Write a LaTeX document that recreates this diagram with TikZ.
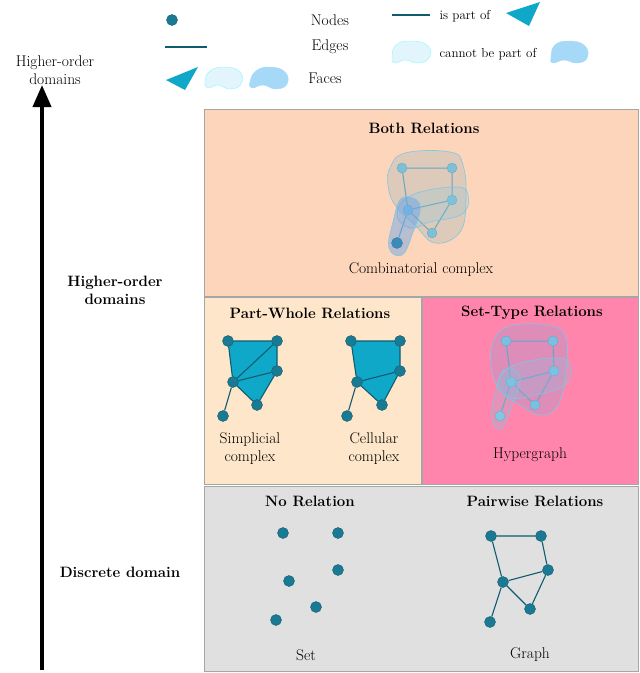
\documentclass[tikz,border=0pt]{standalone}
\usetikzlibrary{arrows.meta}
\definecolor{nodec}{HTML}{1A7A94}
\definecolor{edgec}{HTML}{0F5C70}
\definecolor{facec}{HTML}{0FA8C8}
\definecolor{peach}{HTML}{FDD5BA}
\definecolor{cream}{HTML}{FDE6C9}
\definecolor{pinkc}{HTML}{FF85AD}
\definecolor{grayc}{HTML}{E0E0E0}
\definecolor{lcloud}{HTML}{E3F5FC}
\definecolor{bcloud}{HTML}{A6D8F7}
\definecolor{hyp}{HTML}{7EC8E3}
\begin{document}
\begin{tikzpicture}[x=1pt,y=-1pt,
  box/.style={draw=gray!70,line width=0.8pt},
  nd/.style={circle,fill=nodec,draw=edgec,line width=0.4pt,inner sep=0pt,minimum size=11pt},
  hnd/.style={circle,fill=hyp,draw=hyp!80!black,line width=0.3pt,inner sep=0pt,minimum size=10pt},
  ed/.style={draw=edgec,line width=1.1pt},
  hed/.style={draw=hyp!70!edgec,line width=1pt},
  face/.style={fill=facec},
  blob/.style={fill=hyp,fill opacity=0.22,draw=hyp,line width=0.6pt},
  lab/.style={font=\fontsize{15.5}{18}\selectfont,align=center},
  blab/.style={font=\fontsize{15}{18}\selectfont\bfseries,align=center}]
\useasboundingbox (0,0) rectangle (640,673);
% boxes
\path[box,fill=peach] (204,109) rectangle (638,296);
\path[box,fill=cream] (204,297) rectangle (421,484);
\path[box,fill=pinkc] (422,297) rectangle (638,484);
\path[box,fill=grayc] (204,486) rectangle (638,671);
% main arrow
\coordinate (abot) at (42,670);
\coordinate (atop) at (42,85);
\draw[line width=4pt,-{Triangle[length=22pt,width=18pt]}] (abot) -- (atop);
\node[lab] (t1) at (55,70) {Higher-order\\domains};
\node[blab] (t2) at (115,290) {Higher-order\\domains};
\node[blab] (t3) at (120,572) {Discrete domain};
% legend
\node[nd] (ln) at (172,20) {};
\node[lab] (lnt) at (330,20) {Nodes};
\coordinate (le1) at (165,47); \coordinate (le2) at (207,47);
\draw[ed] (le1) -- (le2);
\node[lab] (let) at (330,47) {Edges};
\fill[face] (166,80) -- (198,67) -- (185,90) -- cycle;
\draw[fill=lcloud,draw=lcloud!60!cyan] plot[smooth cycle,tension=0.8] coordinates {(205,82)(210,71)(225,67)(240,72)(241,84)(230,89)(218,85)(208,88)};
\draw[fill=bcloud,draw=bcloud] plot[smooth cycle,tension=0.8] coordinates {(250,82)(256,71)(270,67)(285,72)(287,84)(276,89)(263,85)(252,88)};
\node[lab] (lft) at (325,78) {Faces};
\coordinate (lp1) at (392,15); \coordinate (lp2) at (430,15);
\draw[ed] (lp1) -- (lp2);
\node[font=\fontsize{13}{15}\selectfont] (lpt) at (465,16) {is part of};
\fill[face] (506,13) -- (540,2) -- (529,26) -- cycle;
\draw[fill=lcloud,draw=lcloud!60!cyan] plot[smooth cycle,tension=0.8] coordinates {(392,58)(396,45)(412,41)(428,46)(429,58)(418,63)(405,60)(395,63)};
\node[font=\fontsize{13}{15}\selectfont] (lct) at (488,54) {cannot be part of};
\draw[fill=bcloud,draw=bcloud] plot[smooth cycle,tension=0.8] coordinates {(551,58)(555,45)(570,41)(585,46)(587,58)(577,63)(564,60)(553,63)};
% titles
\node[blab] (h1) at (424,128) {Both Relations};
\node[lab] (h1b) at (421,270) {Combinatorial complex};
\node[blab] (h2) at (310,313) {Part-Whole Relations};
\node[blab] (h3) at (532,313) {Set-Type Relations};
\node[lab] (s1) at (250,449) {Simplicial\\complex};
\node[lab] (s2) at (374,449) {Cellular\\complex};
\node[lab] (s3) at (530,455) {Hypergraph};
\node[blab] (h4) at (310,501) {No Relation};
\node[blab] (h5) at (535,501) {Pairwise Relations};
\node[lab] (s4) at (306,655) {Set};
\node[lab] (s5) at (530,655) {Graph};
% simplicial complex
\fill[face] (228,341) -- (277,341) -- (277,371) -- (257,405) -- (233,382) -- cycle;
\node[nd] (a1) at (228,341) {}; \node[nd] (a2) at (277,341) {};
\node[nd] (a3) at (277,371) {}; \node[nd] (a4) at (233,382) {};
\node[nd] (a5) at (257,405) {}; \node[nd] (a6) at (223,416) {};
\draw[ed] (a1)--(a2) (a2)--(a3) (a3)--(a5) (a5)--(a4) (a4)--(a1) (a4)--(a2) (a4)--(a3) (a4)--(a6);
% cellular complex
\fill[face] (351,341) -- (400,341) -- (400,371) -- (382,405) -- (357,382) -- cycle;
\node[nd] (b1) at (351,341) {}; \node[nd] (b2) at (400,341) {};
\node[nd] (b3) at (400,371) {}; \node[nd] (b4) at (357,382) {};
\node[nd] (b5) at (382,405) {}; \node[nd] (b6) at (347,416) {};
\draw[ed] (b1)--(b2) (b2)--(b3) (b3)--(b5) (b5)--(b4) (b4)--(b1) (b4)--(b3) (b4)--(b6);
% hypergraph
\node[hnd] (c1) at (506,341) {}; \node[hnd] (c2) at (553,341) {};
\node[hnd] (c3) at (554,371) {}; \node[hnd] (c4) at (511,382) {};
\node[hnd] (c5) at (535,405) {}; \node[hnd] (c6) at (500,416) {};
\draw[hed] (c1)--(c2) (c2)--(c3) (c3)--(c5) (c5)--(c4) (c4)--(c1) (c4)--(c3) (c4)--(c6);
\draw[blob,fill=blue!15!hyp] plot[smooth cycle,tension=0.7] coordinates {(494,340)(510,326)(545,325)(565,335)(566,370)(558,405)(540,415)(520,405)(500,390)(491,365)};
\draw[blob] plot[smooth cycle,tension=0.7] coordinates {(498,385)(512,366)(555,358)(570,365)(565,385)(535,395)(512,398)};
\draw[blob] plot[smooth cycle,tension=0.7] coordinates {(504,370)(520,377)(512,405)(502,428)(492,420)(495,395)};
% combinatorial complex
\node[hnd] (d1) at (402,168) {}; \node[hnd] (d2) at (452,168) {};
\node[hnd] (d3) at (452,200) {}; \node[hnd] (d4) at (408,210) {};
\node[hnd] (d5) at (432,233) {}; \node[nd] (d6) at (397,243) {};
\draw[hed] (d1)--(d2) (d2)--(d3) (d3)--(d5) (d5)--(d4) (d4)--(d1) (d4)--(d3) (d4)--(d6);
\draw[blob,fill=gray!40!hyp,fill opacity=0.25] plot[smooth cycle,tension=0.7] coordinates {(390,168)(405,153)(450,152)(463,165)(466,200)(460,232)(435,243)(415,225)(395,205)(388,185)};
\draw[blob] plot[smooth cycle,tension=0.7] coordinates {(397,214)(412,195)(455,187)(468,195)(462,214)(430,222)(410,228)};
\draw[blob,fill=hyp!80!blue,fill opacity=0.45] plot[smooth cycle,tension=0.7] coordinates {(402,198)(420,205)(412,235)(402,255)(389,248)(393,222)};
% set
\node[nd] (e1) at (283,533) {}; \node[nd] (e2) at (338,533) {};
\node[nd] (e3) at (338,570) {}; \node[nd] (e4) at (289,581) {};
\node[nd] (e5) at (316,607) {}; \node[nd] (e6) at (276,620) {};
% graph
\node[nd] (g1) at (491,536) {}; \node[nd] (g2) at (541,536) {};
\node[nd] (g3) at (548,570) {}; \node[nd] (g4) at (503,582) {};
\node[nd] (g5) at (530,609) {}; \node[nd] (g6) at (490,622) {};
\draw[ed] (g1)--(g2) (g2)--(g3) (g3)--(g5) (g5)--(g4) (g4)--(g1) (g4)--(g3) (g4)--(g6);
\end{tikzpicture}
\end{document}
